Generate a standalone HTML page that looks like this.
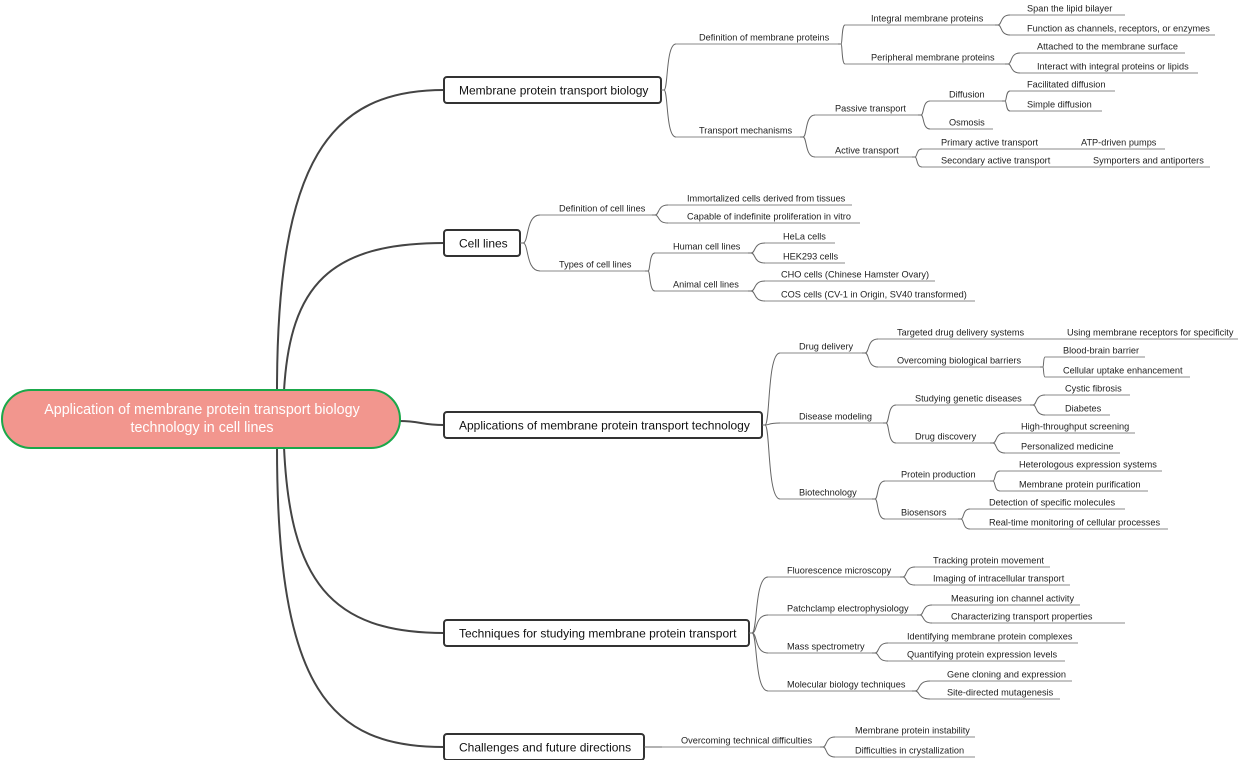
<!DOCTYPE html>
<html><head><meta charset="utf-8"><style>
html,body{margin:0;padding:0;background:#fff;width:1240px;height:760px;overflow:hidden}
svg{display:block}
text{font-family:"Liberation Sans",Arial,sans-serif}
</style></head><body>
<svg id="s" width="1240" height="760" xmlns="http://www.w3.org/2000/svg">
<g fill="none" stroke="#444" stroke-width="2">
<path d="M277 391 C277 160 330 90 444 90"/>
<path d="M284 391 C290 285 330 243 444 243"/>
<path d="M399 421 C422 421 420 425 444 425"/>
<path d="M284 447 C290 580 330 633 444 633"/>
<path d="M277 447 C277 690 330 747 444 747"/>
</g>
<rect x="2" y="390" width="398" height="58" rx="29" fill="#f2968e" stroke="#1aa84a" stroke-width="2"/>
<text x="202" y="414" font-size="14.3" fill="#fff" text-anchor="middle">Application of membrane protein transport biology</text>
<text x="202" y="432" font-size="14.3" fill="#fff" text-anchor="middle">technology in cell lines</text>
<g id="boxes"></g>
<g id="conn" fill="none" stroke="#666" stroke-width="1"></g>
<g id="lines" stroke="#888" stroke-width="1"></g>
<g id="txt" font-size="9.2" fill="#222"></g>
</svg>
<script>
var NS="http://www.w3.org/2000/svg";
function el(p,t,a,txt){var e=document.createElementNS(NS,t);for(var k in a)e.setAttribute(k,a[k]);if(txt)e.textContent=txt;document.getElementById(p).appendChild(e);return e;}
function curve(x1,y1,x2,y2){var a=x1+3,d=x2-a;el("conn","path",{d:"M"+x1+" "+y1+" L"+a+" "+y1+" C"+(a+d*0.35)+" "+y1+" "+(a+d*0.15)+" "+y2+" "+x2+" "+y2});}
function node(px,py,t,tx,cy,ls,le,kids){var y=cy+7;curve(px,py,ls,y);el("lines","line",{x1:ls,y1:y,x2:le,y2:y});el("txt","text",{x:tx,y:cy+3.5},t);(kids||[]).forEach(function(k){node(le,y,k[0],k[1],k[2],k[3],k[4],k[5]);});}
function box(t,x1,x2,cy,kids){el("boxes","rect",{x:x1,y:cy-13,width:x2-x1,height:26,rx:3,fill:"#fff",stroke:"#333","stroke-width":2});el("boxes","text",{x:x1+15,y:cy+4.5,"font-size":12,fill:"#111"},t);kids.forEach(function(k){node(x2,cy,k[0],k[1],k[2],k[3],k[4],k[5]);});}
box("Membrane protein transport biology",444,661,90,[
 ["Definition of membrane proteins",699,37,676,838,[
  ["Integral membrane proteins",871,18,845,995,[["Span the lipid bilayer",1027,8,1010,1125],["Function as channels, receptors, or enzymes",1027,28,1010,1215]]],
  ["Peripheral membrane proteins",871,57,845,1005,[["Attached to the membrane surface",1037,46,1020,1185],["Interact with integral proteins or lipids",1037,66,1020,1198]]]]],
 ["Transport mechanisms",699,130,676,800,[
  ["Passive transport",835,108,815,918,[
   ["Diffusion",949,94,930,1002,[["Facilitated diffusion",1027,84,1010,1115],["Simple diffusion",1027,104,1010,1102]]],
   ["Osmosis",949,122,930,993]]],
  ["Active transport",835,150,815,912,[
   ["Primary active transport",941,142,922,1065,[["ATP-driven pumps",1081,142,1065,1165]]],
   ["Secondary active transport",941,160,922,1080,[["Symporters and antiporters",1093,160,1080,1210]]]]]]]]);
box("Cell lines",444,520,243,[
 ["Definition of cell lines",559,208,540,652,[["Immortalized cells derived from tissues",687,198,668,852],["Capable of indefinite proliferation in vitro",687,216,668,860]]],
 ["Types of cell lines",559,264,540,645,[
  ["Human cell lines",673,246,655,748,[["HeLa cells",783,236,765,835],["HEK293 cells",783,256,765,845]]],
  ["Animal cell lines",673,284,655,748,[["CHO cells (Chinese Hamster Ovary)",781,274,765,935],["COS cells (CV-1 in Origin, SV40 transformed)",781,294,765,975]]]]]]);
box("Applications of membrane protein transport technology",444,762,425,[
 ["Drug delivery",799,346,780,862,[
  ["Targeted drug delivery systems",897,332,878,1040,[["Using membrane receptors for specificity",1067,332,1040,1238]]],
  ["Overcoming biological barriers",897,360,878,1040,[["Blood-brain barrier",1063,350,1045,1145],["Cellular uptake enhancement",1063,370,1045,1190]]]]],
 ["Disease modeling",799,416,780,883,[
  ["Studying genetic diseases",915,398,896,1030,[["Cystic fibrosis",1065,388,1045,1130],["Diabetes",1065,408,1045,1110]]],
  ["Drug discovery",915,436,896,990,[["High-throughput screening",1021,426,1005,1135],["Personalized medicine",1021,446,1005,1120]]]]],
 ["Biotechnology",799,492,780,872,[
  ["Protein production",901,474,885,990,[["Heterologous expression systems",1019,464,1000,1162],["Membrane protein purification",1019,484,1000,1148]]],
  ["Biosensors",901,512,885,958,[["Detection of specific molecules",989,502,970,1125],["Real-time monitoring of cellular processes",989,522,970,1168]]]]]]);
box("Techniques for studying membrane protein transport",444,749,633,[
 ["Fluorescence microscopy",787,570,768,900,[["Tracking protein movement",933,560,915,1050],["Imaging of intracellular transport",933,578,915,1070]]],
 ["Patchclamp electrophysiology",787,608,768,917,[["Measuring ion channel activity",951,598,932,1080],["Characterizing transport properties",951,616,932,1125]]],
 ["Mass spectrometry",787,646,768,872,[["Identifying membrane protein complexes",907,636,888,1078],["Quantifying protein expression levels",907,654,888,1065]]],
 ["Molecular biology techniques",787,684,768,912,[["Gene cloning and expression",947,674,930,1072],["Site-directed mutagenesis",947,692,930,1060]]]]);
box("Challenges and future directions",444,644,747,[
 ["Overcoming technical difficulties",681,740,662,820,[["Membrane protein instability",855,730,835,975],["Difficulties in crystallization",855,750,835,975]]]]);
</script>
</body></html>
